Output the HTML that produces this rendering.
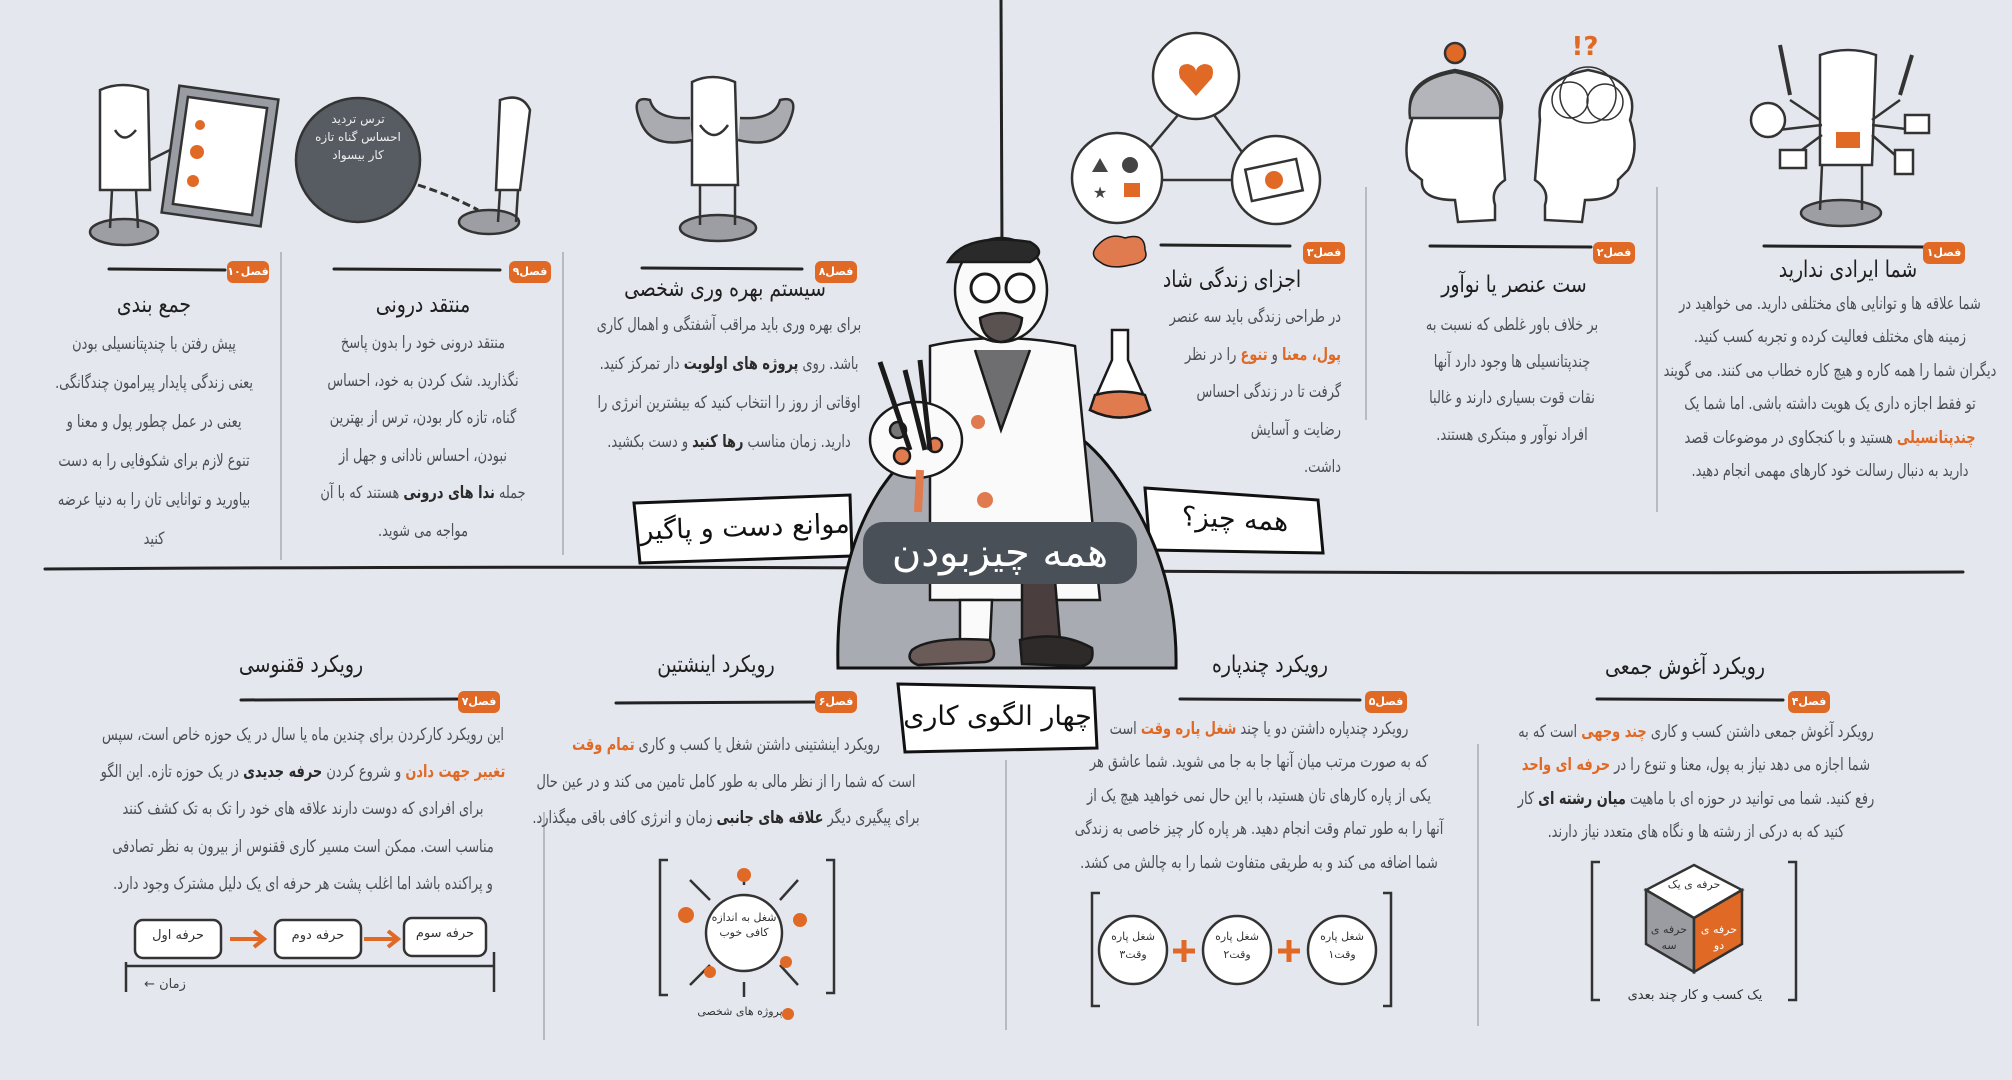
<!DOCTYPE html>
<html><head><meta charset="utf-8">
<style>
html,body{margin:0;padding:0}
body{width:2012px;height:1080px;overflow:hidden;background:#e5e7ee;position:relative;font-family:"DejaVu Sans","Liberation Sans",sans-serif}
svg{position:absolute;left:0;top:0}
.tb{position:absolute;width:900px;direction:rtl;text-align:center;white-space:nowrap;color:#4d4f55;font-size:17px}
.tb .in{transform:scaleX(0.76);transform-origin:center top}
.tr{text-align:right}
.tr .in{transform-origin:right top}
.o{color:#e06a25;font-weight:bold}
.b{color:#2b2b2b;font-weight:bold}
.tt{position:absolute;width:600px;direction:rtl;text-align:center;white-space:nowrap;color:#1f1f1f;font-size:23px;line-height:30px}
.tt .in{transform:scaleX(0.82);transform-origin:center}
.bd{position:absolute;width:42px;height:22px;background:#e06a25;border-radius:6px;color:#fff;font-size:11px;line-height:22px;text-align:center;direction:rtl;font-weight:bold}
.lbl{position:absolute;direction:rtl;white-space:nowrap;color:#111;text-align:center}
</style></head><body>
<svg width="2012" height="1080" viewBox="0 0 2012 1080">
<g stroke="#222" stroke-linecap="round" fill="none">
<!-- main lines -->
<path d="M1001 0 L1002 250" stroke-width="3"/>
<path d="M45 569 Q500 566 900 568" stroke-width="3"/>
<path d="M1120 571 Q1500 574 1963 572" stroke-width="3"/>
<!-- header lines -->
<path d="M1764 246 L1925 247" stroke-width="3"/>
<path d="M1430 246 L1591 247" stroke-width="3"/>
<path d="M1161 245 L1290 246" stroke-width="3"/>
<path d="M642 268 L802 269" stroke-width="3"/>
<path d="M334 269 L500 270" stroke-width="3"/>
<path d="M109 269 L225 270" stroke-width="3"/>
<path d="M1597 699 L1783 700" stroke-width="3"/>
<path d="M1180 699 L1360 700" stroke-width="3"/>
<path d="M616 703 L821 702" stroke-width="3"/>
<path d="M241 700 L462 699" stroke-width="3"/>
</g>
<g stroke="#b8bac0" stroke-width="2">
<line x1="281" y1="252" x2="281" y2="560"/>
<line x1="563" y1="252" x2="563" y2="555"/>
<line x1="1366" y1="187" x2="1366" y2="420"/>
<line x1="1657" y1="187" x2="1657" y2="512"/>
<line x1="544" y1="812" x2="544" y2="1040"/>
<line x1="1006" y1="760" x2="1006" y2="1030"/>
<line x1="1478" y1="744" x2="1478" y2="1026"/>
</g>

<!-- top illustrations -->
<g stroke="#333" stroke-width="2.5" fill="#fff">
<!-- triangle circles -->
<path d="M1178 115 L1140 160 M1214 115 L1248 160 M1160 180 L1232 180" fill="none"/>
<circle cx="1196" cy="76" r="43"/>
<circle cx="1117" cy="178" r="45"/>
<circle cx="1276" cy="180" r="44"/>
<path d="M1196 96 L1180 78 Q1176 64 1188 64 Q1196 66 1196 72 Q1196 66 1204 64 Q1216 64 1212 78 Z" fill="#e06a25" stroke="none"/>
<path d="M1092 172 L1100 158 L1108 172 Z" fill="#444" stroke="none"/>
<circle cx="1130" cy="165" r="8" fill="#444" stroke="none"/>
<rect x="1124" y="183" width="16" height="14" fill="#e06a25" stroke="none"/>
<text x="1100" y="198" font-size="16" fill="#444" stroke="none" text-anchor="middle">★</text>
<rect x="1248" y="164" width="52" height="32" transform="rotate(-12 1274 180)" fill="#fff"/>
<circle cx="1274" cy="180" r="9" fill="#e06a25" stroke="none"/>
<!-- heads -->
<path d="M1412 120 Q1400 80 1455 70 Q1512 80 1500 120 L1505 180 Q1490 190 1495 205 L1495 220 L1458 222 L1455 200 Q1420 200 1422 180 L1410 170 Q1402 150 1412 120 Z"/>
<path d="M1410 118 Q1405 80 1455 72 Q1505 82 1500 118 Z" fill="#b3b5ba"/>
<circle cx="1455" cy="53" r="10" fill="#e06a25"/>
<path d="M1630 120 Q1642 80 1588 70 Q1535 80 1540 120 L1535 180 Q1550 190 1545 205 L1545 220 L1582 222 L1585 200 Q1620 200 1618 180 L1628 170 Q1640 150 1630 120 Z"/>
<circle cx="1588" cy="95" r="28" fill="none" stroke-width="1.5"/>
<circle cx="1570" cy="100" r="18" fill="none" stroke-width="1.5"/>
<circle cx="1605" cy="102" r="18" fill="none" stroke-width="1.5"/>
<text x="1585" y="55" font-size="26" fill="#e06a25" stroke="none" text-anchor="middle" font-weight="bold">!?</text>
<!-- multi-arm guy -->
<ellipse cx="1841" cy="213" rx="40" ry="13" fill="#9c9ea4"/>
<path d="M1822 165 L1820 210 M1862 165 L1862 210" fill="none"/>
<path d="M1820 55 Q1848 45 1876 55 L1872 165 L1820 165 Z"/>
<path d="M1820 120 L1790 100 M1822 125 L1778 130 M1822 135 L1795 155 M1872 120 L1900 100 M1872 125 L1914 130 M1872 135 L1895 155" fill="none"/>
<rect x="1836" y="132" width="24" height="16" fill="#e06a25" stroke="none"/>
<circle cx="1768" cy="120" r="17"/>
<rect x="1905" y="115" width="24" height="18"/>
<rect x="1895" y="150" width="18" height="24"/>
<rect x="1780" y="150" width="26" height="18"/>
<path d="M1790 95 L1780 45 M1900 95 L1912 55" fill="none" stroke-width="4"/>
<!-- muscle guy -->
<ellipse cx="718" cy="228" rx="38" ry="13" fill="#9c9ea4"/>
<path d="M700 185 L700 225 M735 185 L735 225" fill="none"/>
<path d="M692 82 Q712 72 735 82 L738 185 L692 185 Z"/>
<path d="M692 140 Q650 150 640 120 Q630 95 650 100 Q655 120 690 118" fill="#a9abb0"/>
<path d="M738 140 Q780 150 790 120 Q800 95 780 100 Q775 120 740 118" fill="#a9abb0"/>
<path d="M700 125 Q714 145 728 125" fill="#fff"/>
<!-- ball and chain -->
<circle cx="358" cy="160" r="62" fill="#575b62" stroke="#333"/>
<path d="M418 185 Q450 195 478 210" fill="none" stroke-width="3" stroke-dasharray="8 4"/>
<ellipse cx="489" cy="222" rx="30" ry="12" fill="#9c9ea4"/>
<path d="M500 100 Q522 92 530 110 L520 190 L496 190 Z"/>
<path d="M500 190 L498 222 M518 190 L516 222" fill="none"/>
<!-- clipboard guy -->
<ellipse cx="124" cy="232" rx="34" ry="13" fill="#9c9ea4"/>
<path d="M100 90 Q122 80 148 90 L150 190 L100 190 Z"/>
<path d="M112 190 L110 228 M136 190 L138 228 M150 160 L170 150" fill="none"/>
<path d="M115 130 Q124 145 136 130" fill="none"/>
<rect x="170" y="92" width="100" height="128" transform="rotate(8 220 156)" fill="#999ca2"/>
<rect x="180" y="102" width="80" height="108" transform="rotate(8 220 156)" fill="#fff"/>
<circle cx="200" cy="125" r="5" fill="#e06a25" stroke="none"/>
<circle cx="197" cy="152" r="7" fill="#e06a25" stroke="none"/>
<circle cx="193" cy="181" r="6" fill="#e06a25" stroke="none"/>
</g>

<!-- banners behind mound -->
<g stroke="#111" stroke-width="3" fill="#fff">
<path d="M634 503 L850 495 L852 556 L640 563 Z"/>
<path d="M1145 488 L1318 500 L1323 553 L1150 550 Z"/>
</g>
<!-- mound -->
<path d="M838 668 Q835 560 880 490 Q935 410 1003 410 Q1075 410 1125 490 Q1178 570 1176 668 Z" fill="#a8abb2" stroke="#111" stroke-width="3"/>
<!-- pedestal -->
<path d="M898 684 L1094 688 L1097 748 L905 752 Z" fill="#fff" stroke="#111" stroke-width="3"/>
<!-- figure -->
<g stroke="#1a1a1a" stroke-width="2.5">
<path d="M930 346 Q1000 330 1075 346 L1100 600 L930 600 Z" fill="#fafafa"/>
<path d="M975 350 L1001 430 L1030 350" fill="#6e6e70"/>
<path d="M960 600 L960 642 L990 642 L992 600 Z" fill="#fafafa"/>
<path d="M1022 580 L1022 640 L1060 640 L1055 580 Z" fill="#4a3f3e"/>
<path d="M912 650 Q930 636 990 640 Q1000 660 985 662 L918 665 Q905 660 912 650 Z" fill="#6a5a58"/>
<path d="M1020 640 Q1060 630 1092 648 Q1095 665 1080 666 L1022 664 Z" fill="#2e2a2a"/>
<ellipse cx="1001" cy="290" rx="46" ry="52" fill="#fafafa"/>
<path d="M948 262 Q965 232 1030 242 Q1048 252 1030 262 Z" fill="#2a2a2a"/>
<circle cx="985" cy="288" r="14" fill="#fff" stroke-width="3"/>
<circle cx="1020" cy="288" r="14" fill="#fff" stroke-width="3"/>
<path d="M980 318 Q1001 308 1022 318 Q1020 340 1001 342 Q982 340 980 318 Z" fill="#5a5250"/>
<!-- flask -->
<path d="M1112 330 L1112 360 L1090 410 Q1120 425 1150 410 L1128 360 L1128 330 Z" fill="#fff"/>
<path d="M1095 395 Q1120 388 1145 395 L1150 410 Q1120 425 1090 410 Z" fill="#e07a4f"/>
<path d="M1098 245 Q1110 232 1125 238 Q1145 232 1145 250 Q1150 262 1130 265 Q1110 270 1100 262 Q1088 255 1098 245 Z" fill="#e07a4f" stroke-width="1.5"/>
<!-- palette -->
<ellipse cx="916" cy="440" rx="46" ry="38" fill="#fafafa"/>
<circle cx="898" cy="430" r="8" fill="#777"/>
<circle cx="902" cy="456" r="8" fill="#e07a4f"/>
<circle cx="935" cy="445" r="7" fill="#e07a4f"/>
<path d="M920 470 L918 512" stroke="#e07a4f" stroke-width="8"/>
<path d="M880 362 L910 450 M905 370 L925 450 M920 360 L930 450" stroke-width="5"/>
</g>
<g fill="#e07a4f"><circle cx="978" cy="422" r="7"/><circle cx="985" cy="500" r="8"/></g>
<!-- dark label -->
<rect x="863" y="522" width="274" height="62" rx="20" fill="#4a5058"/>

<!-- bottom diagrams -->
<g stroke="#333" stroke-width="2.5" fill="none">
<!-- phoenix -->
<rect x="135" y="920" width="86" height="38" rx="8" fill="#fff"/>
<rect x="275" y="920" width="86" height="38" rx="8" fill="#fff"/>
<rect x="404" y="918" width="82" height="38" rx="8" fill="#fff"/>
<path d="M126 962 L126 992 M126 966 L494 966 M494 952 L494 992"/>
<path d="M230 939 L262 939 M364 939 L396 939" stroke="#e06a25" stroke-width="4"/>
<path d="M254 931 L264 939 L254 947 M388 931 L398 939 L388 947" stroke="#e06a25" stroke-width="4"/>
<!-- einstein -->
<path d="M668 860 L660 860 L660 995 L668 995 M826 860 L834 860 L834 993 L826 993"/>
<circle cx="744" cy="933" r="38" fill="#fff"/>
<path d="M690 880 L710 900 M798 880 L780 900 M690 985 L710 965 M798 985 L780 965 M744 870 L744 885 M744 982 L744 997"/>
<!-- parts -->
<path d="M1100 893 L1092 893 L1092 1006 L1100 1006 M1383 893 L1391 893 L1391 1006 L1383 1006"/>
<circle cx="1342" cy="950" r="34" fill="#fff"/>
<circle cx="1237" cy="950" r="34" fill="#fff"/>
<circle cx="1133" cy="950" r="34" fill="#fff"/>
<path d="M1289 940 L1289 962 M1278 951 L1300 951 M1184 940 L1184 962 M1173 951 L1195 951" stroke="#e06a25" stroke-width="5"/>
<!-- cube bracket -->
<path d="M1600 862 L1592 862 L1592 1000 L1600 1000 M1788 862 L1796 862 L1796 1000 L1788 1000"/>
<path d="M1694 865 L1742 890 L1694 918 L1646 890 Z" fill="#fff"/>
<path d="M1646 890 L1694 918 L1694 972 L1646 944 Z" fill="#9a9ca1"/>
<path d="M1694 918 L1742 890 L1742 944 L1694 972 Z" fill="#e06a25"/>
</g>
<g fill="#e06a25">
<circle cx="744" cy="875" r="7"/><circle cx="686" cy="915" r="8"/><circle cx="800" cy="920" r="7"/>
<circle cx="710" cy="972" r="6"/><circle cx="786" cy="962" r="6"/><circle cx="788" cy="1014" r="6"/>
</g>
</svg>

<!-- badges -->
<div class="bd" style="left:1923px;top:242px">فصل۱</div>
<div class="bd" style="left:1593px;top:242px">فصل۲</div>
<div class="bd" style="left:1303px;top:242px">فصل۳</div>
<div class="bd" style="left:815px;top:261px">فصل۸</div>
<div class="bd" style="left:509px;top:261px">فصل۹</div>
<div class="bd" style="left:227px;top:261px">فصل۱۰</div>
<div class="bd" style="left:1788px;top:691px">فصل۴</div>
<div class="bd" style="left:1365px;top:691px">فصل۵</div>
<div class="bd" style="left:815px;top:691px">فصل۶</div>
<div class="bd" style="left:458px;top:691px">فصل۷</div>

<!-- titles -->
<div class="tt" style="left:1548px;top:255px"><div class="in">شما ایرادی ندارید</div></div>
<div class="tt" style="left:1214px;top:270px"><div class="in">ست عنصر یا نوآور</div></div>
<div class="tt" style="left:932px;top:265px"><div class="in">اجزای زندگی شاد</div></div>
<div class="tt" style="left:425px;top:274px"><div class="in">سیستم بهره وری شخصی</div></div>
<div class="tt" style="left:123px;top:290px"><div class="in">منتقد درونی</div></div>
<div class="tt" style="left:-146px;top:290px"><div class="in">جمع بندی</div></div>
<div class="tt" style="left:1385px;top:652px"><div class="in">رویکرد آغوش جمعی</div></div>
<div class="tt" style="left:970px;top:650px"><div class="in">رویکرد چندپاره</div></div>
<div class="tt" style="left:416px;top:650px"><div class="in">رویکرد اینشتین</div></div>
<div class="tt" style="left:1px;top:650px"><div class="in">رویکرد ققنوسی</div></div>

<!-- text blocks -->
<div class="tb" style="left:1380px;top:288px;line-height:33.4px"><div class="in">
شما علاقه ها و توانایی های مختلفی دارید. می خواهید در<br>
زمینه های مختلف فعالیت کرده و تجربه کسب کنید.<br>
دیگران شما را همه کاره و هیچ کاره خطاب می کنند. می گویند<br>
تو فقط اجازه داری یک هویت داشته باشی. اما شما یک<br>
<span class="o">چندپتانسیلی</span> هستید و با کنجکاوی در موضوعات قصد<br>
دارید به دنبال رسالت خود کارهای مهمی انجام دهید.</div></div>

<div class="tb" style="left:1062px;top:307px;line-height:36.7px"><div class="in">
بر خلاف باور غلطی که نسبت به<br>
چندپتانسیلی ها وجود دارد آنها<br>
نقات قوت بسیاری دارند و غالبا<br>
افراد نوآور و مبتکری هستند.</div></div>

<div class="tb tr" style="left:441px;top:299px;line-height:37.5px"><div class="in">
در طراحی زندگی باید سه عنصر<br>
<span class="o">پول، معنا</span> و <span class="o">تنوع</span> را در نظر<br>
گرفت تا در زندگی احساس<br>
رضایت و آسایش<br>
داشت.</div></div>

<div class="tb" style="left:279px;top:306px;line-height:39px"><div class="in">
برای بهره وری باید مراقب آشفتگی و اهمال کاری<br>
باشد. روی <span class="b">پروژه های اولویت</span> دار تمرکز کنید.<br>
اوقاتی از روز را انتخاب کنید که بیشترین انرژی را<br>
دارید. زمان مناسب <span class="b">رها کنید</span> و دست بکشید.</div></div>

<div class="tb" style="left:-27px;top:325px;line-height:37.6px"><div class="in">
منتقد درونی خود را بدون پاسخ<br>
نگذارید. شک کردن به خود، احساس<br>
گناه، تازه کار بودن، ترس از بهترین<br>
نبودن، احساس نادانی و جهل از<br>
جمله <span class="b">ندا های درونی</span> هستند که با آن<br>
مواجه می شوید.</div></div>

<div class="tb" style="left:-296px;top:325px;line-height:39px"><div class="in">
پیش رفتن با چندپتانسیلی بودن<br>
یعنی زندگی پایدار پیرامون چندگانگی.<br>
یعنی در عمل چطور پول و معنا و<br>
تنوع لازم برای شکوفایی را به دست<br>
بیاورید و توانایی تان را به دنیا عرضه<br>
کنید</div></div>

<div class="tb" style="left:1246px;top:716px;line-height:33.4px"><div class="in">
رویکرد آغوش جمعی داشتن کسب و کاری <span class="o">چند وجهی</span> است که به<br>
شما اجازه می دهد نیاز به پول، معنا و تنوع را در <span class="o">حرفه ای واحد</span><br>
رفع کنید. شما می توانید در حوزه ای با ماهیت <span class="b">میان رشته ای</span> کار<br>
کنید که به درکی از رشته ها و نگاه های متعدد نیاز دارند.</div></div>

<div class="tb" style="left:809px;top:713px;line-height:33.4px"><div class="in">
رویکرد چندپاره داشتن دو یا چند <span class="o">شغل پاره وقت</span> است<br>
که به صورت مرتب میان آنها جا به جا می شوید. شما عاشق هر<br>
یکی از پاره کارهای تان هستید، با این حال نمی خواهید هیچ یک از<br>
آنها را به طور تمام وقت انجام دهید. هر پاره کار چیز خاصی به زندگی<br>
شما اضافه می کند و به طریقی متفاوت شما را به چالش می کشد.</div></div>

<div class="tb" style="left:276px;top:727px;line-height:36.5px"><div class="in">
رویکرد اینشتینی داشتن شغل یا کسب و کاری <span class="o">تمام وقت</span><br>
است که شما را از نظر مالی به طور کامل تامین می کند و در عین حال<br>
برای پیگیری دیگر <span class="b">علاقه های جانبی</span> زمان و انرژی کافی باقی میگذارد.</div></div>

<div class="tb" style="left:-147px;top:717px;line-height:37.2px"><div class="in">
این رویکرد کارکردن برای چندین ماه یا سال در یک حوزه خاص است، سپس<br>
<span class="o">تغییر جهت دادن</span> و شروع کردن <span class="b">حرفه جدیدی</span> در یک حوزه تازه. این الگو<br>
برای افرادی که دوست دارند علاقه های خود را تک به تک کشف کنند<br>
مناسب است. ممکن است مسیر کاری ققنوس از بیرون به نظر تصادفی<br>
و پراکنده باشد اما اغلب پشت هر حرفه ای یک دلیل مشترک وجود دارد.</div></div>

<!-- banner labels -->
<div class="lbl" style="left:640px;top:505px;width:210px;font-size:27px;line-height:46px;transform:rotate(-2deg)">موانع دست و پاگیر</div>
<div class="lbl" style="left:1150px;top:496px;width:170px;font-size:27px;line-height:48px;transform:rotate(3deg)">همه چیز؟</div>
<div class="lbl" style="left:900px;top:692px;width:195px;font-size:27px;line-height:50px">چهار الگوی کاری</div>
<div class="lbl" style="left:863px;top:524px;width:274px;font-size:40px;line-height:58px;color:#fff">همه چیزبودن</div>

<!-- diagram labels -->
<div class="lbl" style="left:135px;top:928px;width:86px;font-size:13px;color:#333">حرفه اول</div>
<div class="lbl" style="left:275px;top:928px;width:86px;font-size:13px;color:#333">حرفه دوم</div>
<div class="lbl" style="left:404px;top:926px;width:82px;font-size:13px;color:#333">حرفه سوم</div>
<div class="lbl" style="left:130px;top:977px;width:70px;font-size:13px;color:#444">زمان ←</div>
<div class="lbl" style="left:706px;top:910px;width:76px;font-size:11px;line-height:15px;color:#333;white-space:normal">شغل به اندازه کافی خوب</div>
<div class="lbl" style="left:690px;top:1005px;width:100px;font-size:11px;color:#333">پروژه های شخصی</div>
<div class="lbl" style="left:1308px;top:928px;width:68px;font-size:11px;line-height:18px;color:#333;white-space:normal">شغل پاره وقت۱</div>
<div class="lbl" style="left:1203px;top:928px;width:68px;font-size:11px;line-height:18px;color:#333;white-space:normal">شغل پاره وقت۲</div>
<div class="lbl" style="left:1099px;top:928px;width:68px;font-size:11px;line-height:18px;color:#333;white-space:normal">شغل پاره وقت۳</div>
<div class="lbl" style="left:1664px;top:878px;width:60px;font-size:11px;color:#333">حرفه ی یک</div>
<div class="lbl" style="left:1696px;top:922px;width:46px;font-size:11px;line-height:16px;color:#fff;white-space:normal">حرفه ی دو</div>
<div class="lbl" style="left:1646px;top:922px;width:46px;font-size:11px;line-height:16px;color:#333;white-space:normal">حرفه ی سه</div>
<div class="lbl" style="left:1620px;top:988px;width:150px;font-size:13px;color:#333">یک کسب و کار چند بعدی</div>
<div class="lbl" style="left:310px;top:110px;width:96px;font-size:12px;line-height:18px;color:#eee;white-space:normal">ترس تردید احساس گناه تازه کار بیسواد</div>
</body></html>
